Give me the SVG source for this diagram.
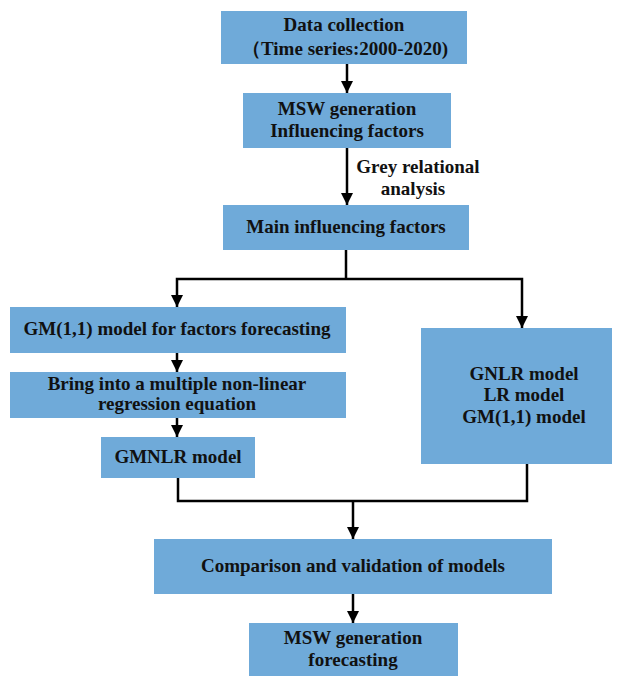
<svg xmlns="http://www.w3.org/2000/svg" width="617" height="676" viewBox="0 0 617 676" font-family="'Liberation Serif', 'Times New Roman', Times, serif">
<style>
.box{fill:#6FAAD9}
.t{font-family:'Liberation Serif','Times New Roman',Times,serif;font-weight:700;font-size:19px;fill:#111;text-anchor:middle}
.ln{fill:none;stroke:#000;stroke-width:2.5}
.ar{fill:none;stroke:#000;stroke-width:2.5;marker-end:url(#ah)}
</style>
<defs>
<marker id="ah" markerUnits="userSpaceOnUse" markerWidth="13" markerHeight="12" refX="12" refY="6" orient="auto">
<path d="M0,0 L12,6 L0,12 Z" fill="#000"/>
</marker>
</defs>
<rect width="617" height="676" fill="#fff"/>
<g id="connectors">
<line class="ar" x1="347" y1="64" x2="347" y2="93"/>
<line class="ar" x1="347" y1="148" x2="347" y2="205"/>
<polyline class="ln" points="346,250 346,279"/>
<polyline class="ar" points="346,279 177,279 177,307"/>
<polyline class="ar" points="346,279 522,279 522,328"/>
<line class="ar" x1="177" y1="353" x2="177" y2="372"/>
<line class="ar" x1="177" y1="418" x2="177" y2="437"/>
<polyline class="ln" points="178,478 178,501 527,501 527,464"/>
<line class="ar" x1="353" y1="501" x2="353" y2="539"/>
<line class="ar" x1="353" y1="594" x2="353" y2="623"/>
<text class="t" x="418" y="173">Grey relational</text>
<text class="t" x="413" y="195">analysis</text>
</g>
<g id="data">
<rect class="box" x="221" y="11" width="246" height="53"/>
<text class="t" x="344" y="31">Data collection</text>
<text class="t" x="345" y="55">（Time series:2000-2020)</text>
</g>
<g id="msw-factors">
<rect class="box" x="243" y="93" width="208" height="55"/>
<text class="t" x="347" y="115">MSW generation</text>
<text class="t" x="347" y="137">Influencing factors</text>
</g>
<g id="main-factors">
<rect class="box" x="223" y="205" width="246" height="45"/>
<text class="t" x="346" y="233">Main influencing factors</text>
</g>
<g id="gm-factors">
<rect class="box" x="10" y="307" width="336" height="46"/>
<text class="t" x="177" y="335">GM(1,1) model for factors forecasting</text>
</g>
<g id="bring">
<rect class="box" x="10" y="372" width="336" height="46"/>
<text class="t" x="177" y="390">Bring into a multiple non-linear</text>
<text class="t" x="177" y="410">regression equation</text>
</g>
<g id="gmnlr">
<rect class="box" x="101" y="437" width="154" height="41"/>
<text class="t" x="178" y="463">GMNLR model</text>
</g>
<g id="other-models">
<rect class="box" x="421" y="328" width="191" height="136"/>
<text class="t" x="524" y="380">GNLR model</text>
<text class="t" x="524" y="401">LR model</text>
<text class="t" x="524" y="423">GM(1,1) model</text>
</g>
<g id="comparison">
<rect class="box" x="154" y="539" width="398" height="55"/>
<text class="t" x="353" y="572">Comparison and validation of models</text>
</g>
<g id="forecast">
<rect class="box" x="249" y="623" width="209" height="53"/>
<text class="t" x="353" y="644">MSW generation</text>
<text class="t" x="353" y="666">forecasting</text>
</g>
</svg>
